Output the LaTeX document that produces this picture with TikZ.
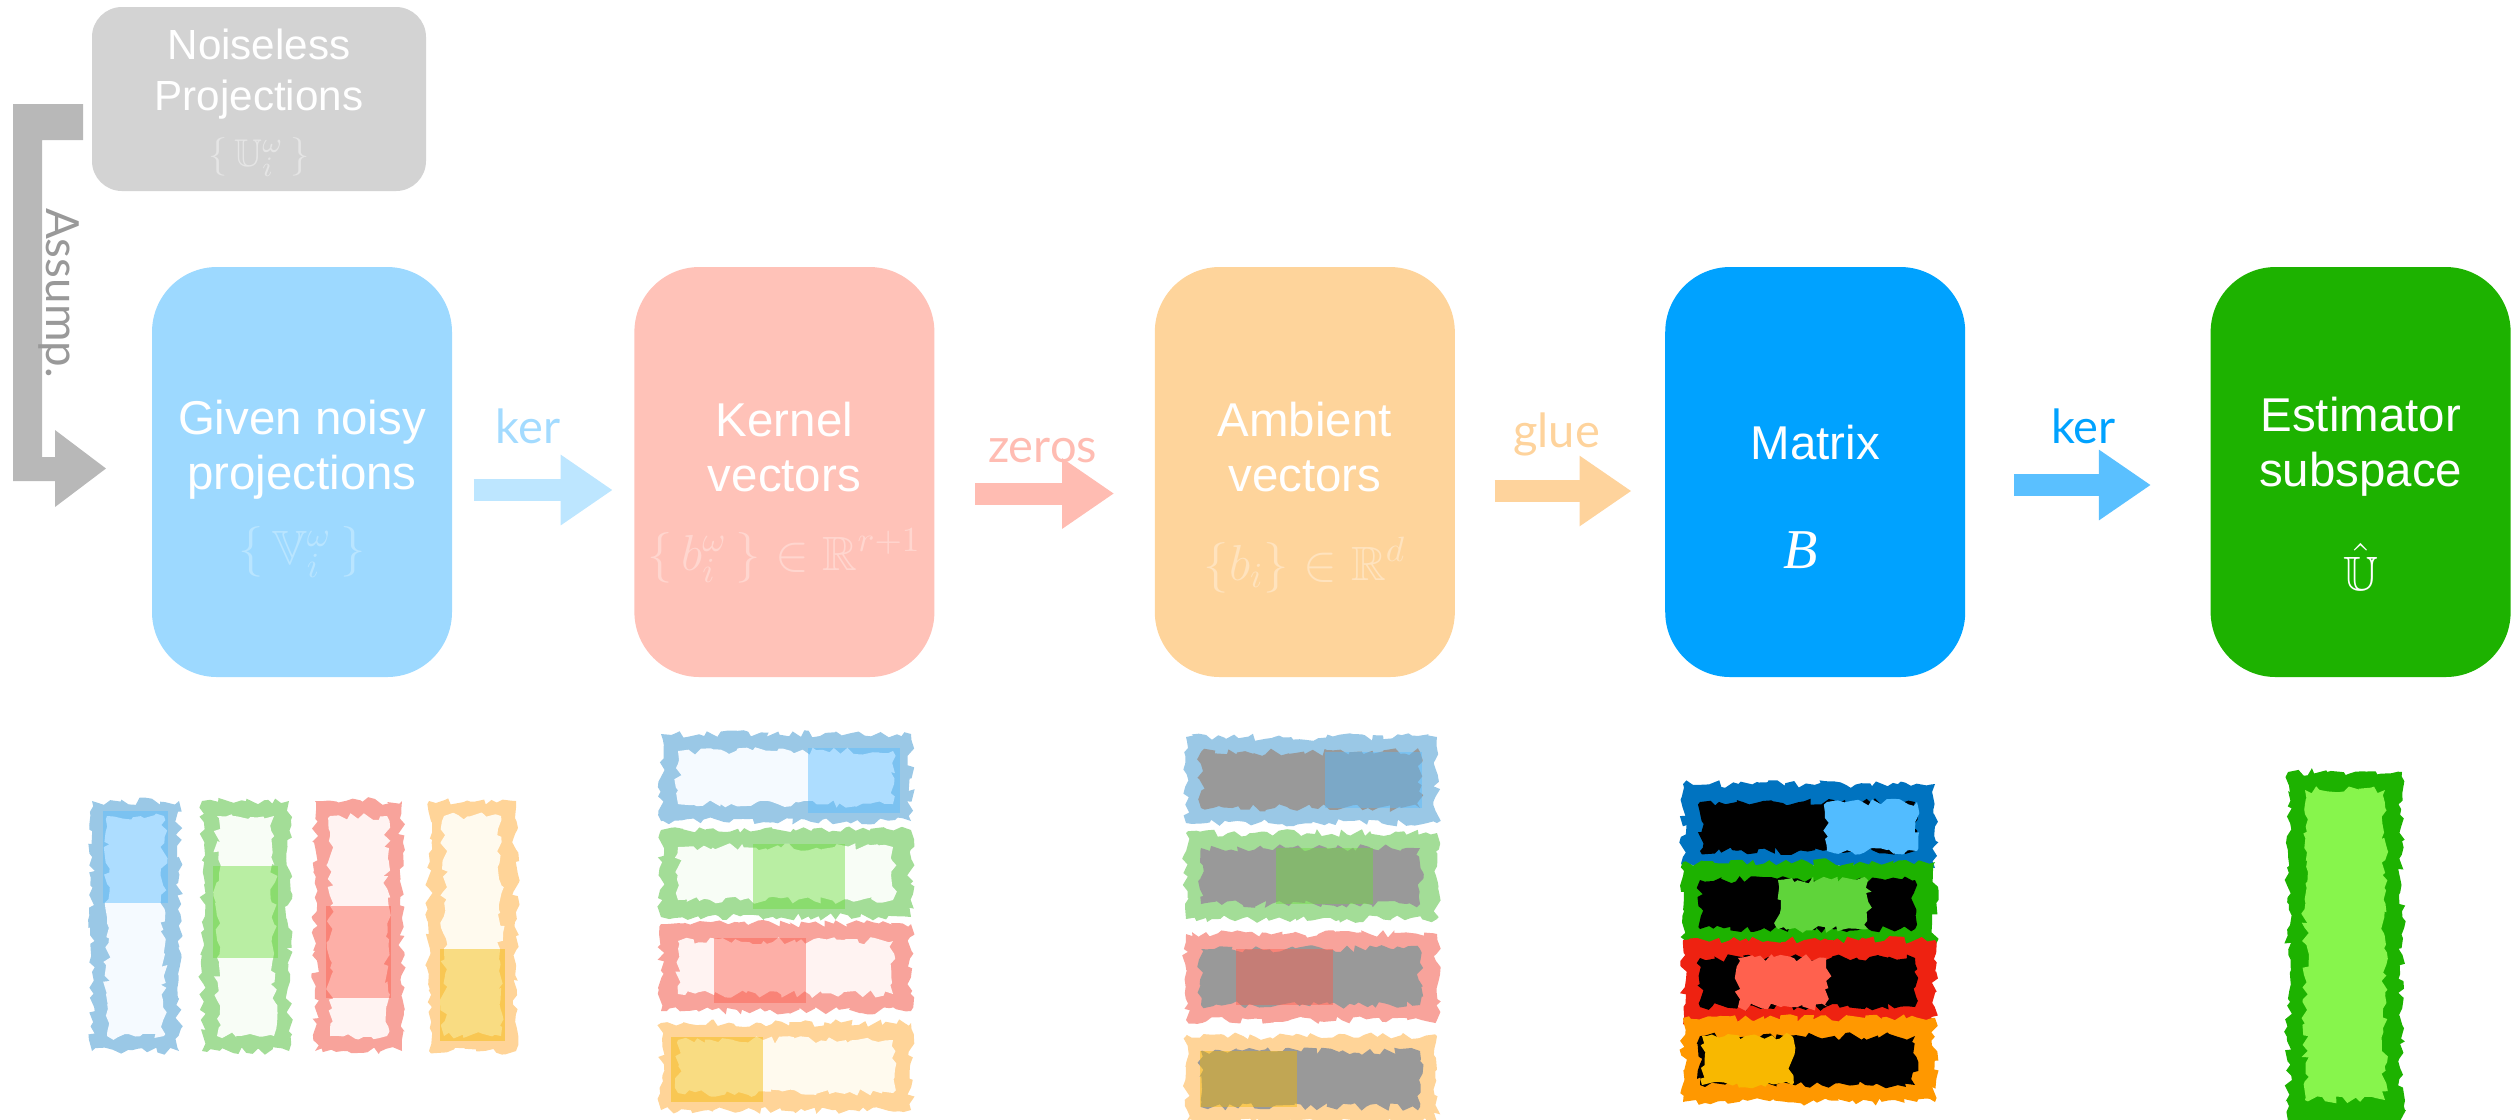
\documentclass[tikz,border=0pt]{standalone}
\usepackage{fontspec}
\usepackage{amssymb}
\setmainfont{Liberation Sans}
\newfontfamily\lblfont{Lato}
\newfontfamily\symfont{Liberation Serif}
\usetikzlibrary{positioning,calc,arrows.meta,decorations.pathmorphing}

% stage boxes
\definecolor{cnoise}{HTML}{D3D3D3}
\definecolor{cnoisesym}{HTML}{E5E5E5}
\definecolor{cassump}{HTML}{B8B8B8}
\definecolor{cassumptxt}{HTML}{999999}
\definecolor{cgiven}{HTML}{9DD9FF}
\definecolor{cgivensym}{HTML}{B9E5FF}
\definecolor{ckernel}{HTML}{FFC2B8}
\definecolor{ckernelsym}{HTML}{FFD6CF}
\definecolor{cambient}{HTML}{FED49B}
\definecolor{cambientsym}{HTML}{FFE3BE}
\definecolor{cmatrix}{HTML}{00A2FF}
\definecolor{cestim}{HTML}{1DB200}
\definecolor{cestimlt}{HTML}{87F54C}
% flow arrows
\definecolor{fker}{HTML}{BDE6FF}
\definecolor{lker}{HTML}{A3DBFF}
\definecolor{fzeros}{HTML}{FFBCB2}
\definecolor{fglue}{HTML}{FED39C}
\definecolor{fkerb}{HTML}{5AC0FF}
% sketched vectors
\definecolor{pblue}{HTML}{9AC8E6}
\definecolor{pgreen}{HTML}{A3DD97}
\definecolor{pred}{HTML}{F8A39B}
\definecolor{porange}{HTML}{FFD498}
\definecolor{ltpblue}{HTML}{F5FAFF}
\definecolor{ltpgreen}{HTML}{F8FDF6}
\definecolor{ltpred}{HTML}{FFF3F2}
\definecolor{ltporange}{HTML}{FFFAEE}
\definecolor{hlpblue}{HTML}{57BBFF}
\definecolor{hlpgreen}{HTML}{6DDC3E}
\definecolor{hlpred}{HTML}{FB5D4C}
\definecolor{hlporange}{HTML}{F2B800}
\definecolor{zerogray}{HTML}{999999}
\definecolor{mblue}{HTML}{0073C0}
\definecolor{mgreen}{HTML}{1DB200}
\definecolor{mred}{HTML}{EE2211}
\definecolor{morange}{HTML}{FF9800}
\definecolor{hmblue}{HTML}{52BCFF}
\definecolor{hmgreen}{HTML}{5FD43A}
\definecolor{hmred}{HTML}{FF614E}
\definecolor{hmorange}{HTML}{F8B800}

\begin{document}
\begin{tikzpicture}[
  stage/.style={rounded corners=0.65cm, minimum width=3cm, minimum height=4.1cm, inner sep=0pt},
  title/.style={text=white, align=center, inner sep=0pt, font=\fontsize{13.5}{15.6}\selectfont},
  sym/.style={inner sep=0pt, font=\fontsize{13.7}{16}\selectfont},
  flow/.style={line width=0.22cm, -{Triangle[length=0.52cm,width=0.67cm]}},
  flowlbl/.style={font=\lblfont\fontsize{13.4}{16}\selectfont, anchor=base},
  rough/.style={decorate, decoration={random steps, segment length=1.6pt, amplitude=1.1pt}},
]
\useasboundingbox (0,0) rectangle (25.2,-11.19);

% noiseless projections and the assumption bracket
\node[rounded corners=0.3cm, fill=cnoise, minimum width=3.34cm, minimum height=1.84cm] (noise) at (2.59,-0.99) {};
\node[text=white, align=center, inner sep=0pt, font=\fontsize{12}{14.5}\selectfont] (noise-t) at ($(noise)+(0,0.25)$) {Noiseless\\Projections};
\node[text=cnoisesym, inner sep=0pt, font=\fontsize{11}{13}\selectfont] (noise-s) at ($(noise)+(0,-0.58)$) {$\{\,\mathbb{U}_i^\omega\,\}$};

\fill[cassump] (0.13,-1.04) -- (0.83,-1.04) -- (0.83,-1.40) -- (0.42,-1.40) -- (0.42,-4.57)
  -- (0.55,-4.57) -- (0.55,-4.30) -- (1.06,-4.685) -- (0.55,-5.07) -- (0.55,-4.81) -- (0.13,-4.81) -- cycle;
\node[rotate=-90, text=cassumptxt, font=\lblfont\fontsize{13}{15}\selectfont] (assump) at (0.59,-2.93) {Assump.};

% stages
\node[stage, fill=cgiven] (given) at (3.02,-4.72) {};
\node[stage, fill=ckernel, right=1.81cm of given] (kernel) {};
\node[stage, fill=cambient, right=2.19cm of kernel] (ambient) {};
\node[stage, fill=cmatrix, right=2.09cm of ambient] (matrix) {};
\node[stage, fill=cestim, right=2.44cm of matrix] (estim) {};

\node[title] (given-t) at ($(given)+(0,0.22)$) {Given noisy\\projections};
\node[sym, text=cgivensym] (given-s) at ($(given)+(0,-0.8)$) {$\{\,\mathbb{V}_i^\omega\,\}$};
\node[title] (kernel-t) at ($(kernel)+(0,0.25)$) {Kernel\\vectors};
\node[sym, text=ckernelsym] (kernel-s) at ($(kernel)+(0,-0.84)$) {$\{\,b_i^\omega\,\}\in\mathbb{R}^{r+1}$};
\node[title] (ambient-t) at ($(ambient)+(0,0.25)$) {Ambient\\vectors};
\node[sym, text=cambientsym] (ambient-s) at ($(ambient)+(0,-0.93)$) {$\{b_i\}\in\mathbb{R}^d$};
\node[title] (matrix-t) at ($(matrix)+(0,0.29)$) {Matrix};
\node[text=white, inner sep=0pt, font=\symfont\itshape\fontsize{16}{18}\selectfont] (matrix-s) at ($(matrix)+(-0.15,-0.78)$) {B};
\node[title] (estim-t) at ($(estim)+(0,0.25)$) {Estimator\\subspace};
\node[sym, text=white] (estim-s) at ($(estim)+(0,-0.95)$) {$\hat{\mathbb{U}}$};

% flow between stages
\draw[flow, fker, shorten <=0.21cm, shorten >=0.21cm] ([yshift=-0.18cm]given.east) -- ([yshift=-0.18cm]kernel.west)
  node[flowlbl, text=lker, midway, xshift=-0.15cm, yshift=0.47cm] (ker-a) {ker};
\draw[flow, fzeros, shorten <=0.40cm, shorten >=0.40cm] ([yshift=-0.215cm]kernel.east) -- ([yshift=-0.215cm]ambient.west)
  node[flowlbl, text=fzeros, midway, xshift=-0.02cm, yshift=0.31cm] (zeros) {zeros};
\draw[flow, fglue, shorten <=0.39cm, shorten >=0.33cm] ([yshift=-0.19cm]ambient.east) -- ([yshift=-0.19cm]matrix.west)
  node[flowlbl, text=fglue, midway, xshift=-0.035cm, yshift=0.44cm] (glue) {glue};
\draw[flow, fkerb, shorten <=0.48cm, shorten >=0.59cm] ([yshift=-0.13cm]matrix.east) -- ([yshift=-0.13cm]estim.west)
  node[flowlbl, text=cmatrix, midway, xshift=-0.045cm, yshift=0.42cm] (ker-b) {ker};

% projections
\foreach \x/\c/\t in {0.92/pblue/8.11, 2.02/pgreen/8.66, 3.15/pred/9.06, 4.29/porange/9.49} {
  \fill[rough, \c] (\x,-8.01) rectangle ++(0.87,-2.5);
  \fill[rough, lt\c] (\x+0.15,-8.16) rectangle ++(0.57,-2.2);
  \fill[hl\c, fill opacity=0.45] (\x+0.11,-\t) rectangle ++(0.65,-0.92);
}

% kernel vectors
\foreach \y/\c/\h in {7.34/pblue/8.08, 8.30/pgreen/7.53, 9.24/pred/7.14, 10.23/porange/6.71} {
  \fill[rough, \c] (6.61,-\y) rectangle ++(2.5,-0.87);
  \fill[rough, lt\c] (6.78,-\y-0.17) rectangle ++(2.15,-0.53);
  \fill[hl\c, fill opacity=0.45] (\h,-\y-0.14) rectangle ++(0.92,-0.65);
}

% ambient vectors
\foreach \y/\c/\h in {7.37/pblue/13.25, 8.33/pgreen/12.76, 9.34/pred/12.36, 10.36/porange/12.00} {
  \fill[rough, \c] (11.86,-\y) rectangle ++(2.51,-0.86);
  \fill[rough, zerogray] (12.01,-\y-0.15) rectangle ++(2.19,-0.56);
  \fill[hl\c, fill opacity=0.45] (\h,-\y-0.15) rectangle ++(0.97,-0.56);
}

% glued matrix
\foreach \y/\c/\h in {7.84/mblue/18.27, 8.62/mgreen/17.78, 9.40/mred/17.38, 10.18/morange/17.02} {
  \fill[rough, \c] (16.83,-\y) rectangle ++(2.52,-0.84);
  \fill[rough, black] (17.00,-\y-0.18) rectangle ++(2.15,-0.49);
  \fill[rough, h\c] (\h,-\y-0.18) rectangle ++(0.9,-0.49);
}

% estimator
\fill[rough, cestim] (22.88,-7.72) rectangle (24.02,-11.25);
\fill[rough, cestimlt] (23.05,-7.90) rectangle (23.85,-11.0);
\end{tikzpicture}
\end{document}
